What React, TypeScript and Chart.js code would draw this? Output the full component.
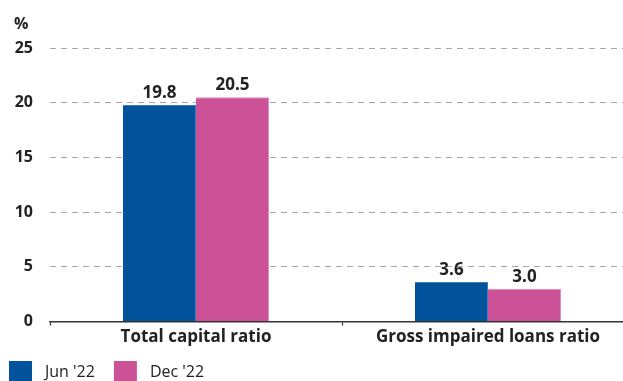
import React, { useEffect, useRef } from "react";
import { Chart, registerables } from "chart.js";

Chart.register(...registerables);

const categories = ["Total capital ratio", "Gross impaired loans ratio"];
const seriesNames = ["Jun '22", "Dec '22"];
const jun22 = [19.8, 3.6];
const dec22 = [20.5, 3.0];
const yTicks = [0, 5, 10, 15, 20, 25];
const unitLabel = "%";

const BLUE = "#02539c";
const PINK = "#cb5296";
const FONT = "'Open Sans', 'Noto Sans', sans-serif";
const TEXT = "#222222";

const valueLabels = {
  id: "valueLabels",
  afterDatasetsDraw(chart: any) {
    const ctx = chart.ctx;
    ctx.save();
    ctx.font = `bold 17px ${FONT}`;
    ctx.fillStyle = TEXT;
    ctx.textAlign = "center";
    ctx.textBaseline = "alphabetic";
    chart.data.datasets.forEach((ds: any, i: number) => {
      const meta = chart.getDatasetMeta(i);
      meta.data.forEach((bar: any, j: number) => {
        ctx.fillText(Number(ds.data[j]).toFixed(1), bar.x, bar.y - 7);
      });
    });
    ctx.restore();
  },
};

const extras = {
  id: "extras",
  afterDraw(chart: any) {
    const ctx = chart.ctx;
    ctx.save();
    // unit label
    ctx.font = `bold 16px ${FONT}`;
    ctx.fillStyle = TEXT;
    ctx.textAlign = "left";
    ctx.textBaseline = "alphabetic";
    ctx.fillText(unitLabel, 14, 29);
    // legend
    ctx.font = `16px ${FONT}`;
    let x = 9;
    chart.data.datasets.forEach((ds: any) => {
      ctx.fillStyle = ds.backgroundColor;
      ctx.fillRect(x, 361, 23, 21);
      ctx.fillStyle = TEXT;
      ctx.fillText(ds.label, x + 36, 377);
      x = x + 36 + ctx.measureText(ds.label).width + 19;
    });
    ctx.restore();
  },
};

export default function App() {
  const ref = useRef<HTMLCanvasElement>(null);
  useEffect(() => {
    if (!ref.current) return;
    const chart = new Chart(ref.current, {
      type: "bar",
      data: {
        labels: categories,
        datasets: [
          {
            label: seriesNames[0],
            data: jun22,
            backgroundColor: BLUE,
            borderColor: "#3f7dbb",
            borderWidth: { top: 1, left: 0, right: 1, bottom: 0 },
          },
          {
            label: seriesNames[1],
            data: dec22,
            backgroundColor: PINK,
            borderColor: "#e58cbd",
            borderWidth: { top: 1, left: 0, right: 1, bottom: 0 },
          },
        ],
      },
      options: {
        responsive: false,
        animation: false,
        devicePixelRatio: 1,
        layout: { padding: { top: 48, right: 6, left: 0, bottom: 0 } },
        plugins: {
          legend: { display: false },
          tooltip: { enabled: false },
        },
        datasets: {
          bar: { categoryPercentage: 0.5, barPercentage: 1.0 },
        },
        scales: {
          x: {
            offset: true,
            grid: {
              offset: true,
              drawOnChartArea: false,
              drawTicks: true,
              tickLength: 4,
              color: "#333333",
              tickColor: "#333333",
              tickWidth: 1.2,
            },
            border: { display: true, color: "#333333", width: 1.5 },
            ticks: {
              font: { family: FONT, size: 17, weight: "bold" },
              color: TEXT,
              padding: 1,
              maxRotation: 0,
              autoSkip: false,
            },
            afterFit: (s: any) => {
              s.height = 59.5;
            },
          },
          y: {
            min: 0,
            max: 25,
            afterBuildTicks: (s: any) => {
              s.ticks = yTicks.map((v) => ({ value: v }));
            },
            grid: {
              drawTicks: false,
              color: (c: any) => (c.tick && c.tick.value === 0 ? "rgba(0,0,0,0)" : "#a8a8a8"),
              lineWidth: 1,
              borderDash: [6, 5],
            } as any,
            border: { display: false, dash: [6, 5] },
            ticks: {
              font: { family: FONT, size: 16, weight: "bold" },
              color: TEXT,
              padding: 17,
            },
            afterFit: (s: any) => {
              s.width = 50;
            },
          },
        },
      },
      plugins: [valueLabels, extras],
    });
    return () => chart.destroy();
  }, []);
  return (
    <div
      style={{
        position: "absolute",
        left: 0,
        top: 0,
        width: 623,
        height: 381,
        overflow: "hidden",
        background: "#ffffff",
      }}
    >
      <canvas ref={ref} width={640} height={381} style={{ width: 640, height: 381, display: "block" }} />
    </div>
  );
}
